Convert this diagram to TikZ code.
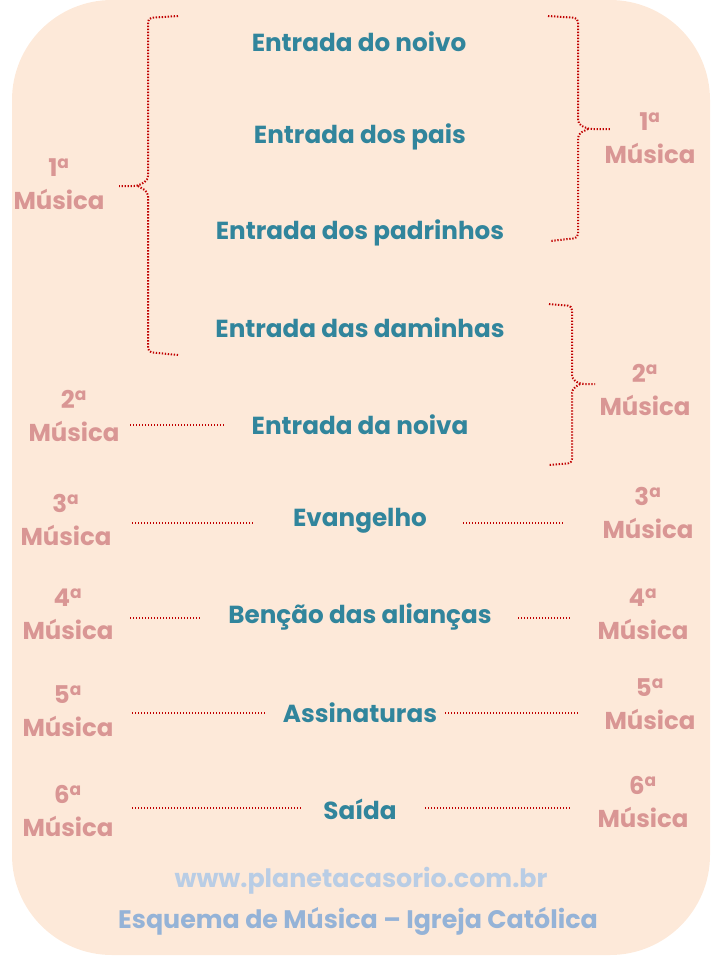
\documentclass[tikz,border=0pt]{standalone}
\usepackage{fontspec}
\setmainfont{Poppins}
\usepackage{xcolor}
\usepackage{tikz}
\usetikzlibrary{positioning}
\definecolor{bgpeach}{HTML}{FDE9D9}
\definecolor{itemteal}{HTML}{31859C}
\definecolor{musrose}{HTML}{D99694}
\definecolor{dotred}{HTML}{C00000}
\definecolor{urlblue}{HTML}{B9CDE5}
\definecolor{titleblue}{HTML}{95B3D7}
\tikzset{
  item/.style={font=\bfseries\fontsize{18.5}{22}\selectfont,text=itemteal,
               inner sep=2pt},
  mus/.style={font=\bfseries\fontsize{18.3}{24.5}\selectfont,text=musrose,
              align=center,inner sep=0pt},
  foot/.style={font=\bfseries\fontsize{19}{22}\selectfont},
  dotln/.style={dotred,line width=1.5pt,dash pattern=on 1pt off 1.25pt},
  brc/.style={dotln,rounded corners=3pt},
}
\newcommand{\mus}[1]{#1\textsuperscript{a}\\Música}
\begin{document}
\begin{tikzpicture}[x=0.75pt, y=-0.75pt]
  \useasboundingbox (0,0) rectangle (720,960);
  \fill[bgpeach, rounded corners=75pt] (12,0) rectangle (710,955);
  % items
  \node[item] (t1) at (359,42)  {Entrada do noivo};
  \node[item] (t2) at (360,137) {Entrada dos pais};
  \node[item] (t3) at (360,233) {Entrada dos padrinhos};
  \node[item] (t4) at (360,328) {Entrada das daminhas};
  \node[item] (t5) at (360,425) {Entrada da noiva};
  \node[item] (t6) at (360,521) {Evangelho};
  \node[item] (t7) at (360,617) {Benção das alianças};
  \node[item] (t8) at (360,713) {Assinaturas};
  \node[item] (t9) at (360,809) {Saída};
  % left music labels
  \node[mus] (l1) at (59,184)  {\mus{1}};
  \node[mus] (l2) at (74,416)  {\mus{2}};
  \node[mus] (l3) at (66,520)  {\mus{3}};
  \node[mus] (l4) at (68,614)  {\mus{4}};
  \node[mus] (l5) at (68,711)  {\mus{5}};
  \node[mus] (l6) at (68,811)  {\mus{6}};
  % right music labels
  \node[mus] (r1) at (650,138) {\mus{1}};
  \node[mus] (r2) at (645,390) {\mus{2}};
  \node[mus] (r3) at (648,513) {\mus{3}};
  \node[mus] (r4) at (643,614) {\mus{4}};
  \node[mus] (r6) at (643,802) {\mus{6}};
  \node[mus] (r5) at (650,704) {\mus{5}};
  % braces
  \coordinate (bl) at (119,186);
  \coordinate (br1) at (610,129);
  \coordinate (br2) at (595,384);
  \draw[brc] (178,16) -- (148,18) -- (148,180) -- (138,186) -- (bl);
  \draw[brc] (138,186) -- (148,192) -- (148,352) -- (178,355);
  \draw[brc] (548,16) -- (578,18) -- (578,124) -- (588,129) -- (br1);
  \draw[brc] (588,129) -- (578,134) -- (578,238) -- (550,241);
  \draw[brc] (549,304) -- (572,306) -- (572,379) -- (580,384) -- (br2);
  \draw[brc] (580,384) -- (572,389) -- (572,463) -- (549,465);
  % dotted leaders
  \coordinate (a5) at (130,425); \coordinate (b5) at (224,425);
  \coordinate (a6) at (132,523); \coordinate (b6) at (255,523);
  \coordinate (c6) at (463,523); \coordinate (d6) at (565,523);
  \coordinate (a7) at (130,618); \coordinate (b7) at (202,618);
  \coordinate (c7) at (518,618); \coordinate (d7) at (572,618);
  \coordinate (a8) at (132,713); \coordinate (b8) at (265,713);
  \coordinate (c8) at (445,713); \coordinate (d8) at (578,713);
  \coordinate (a9) at (132,808); \coordinate (b9) at (303,808);
  \coordinate (c9) at (425,808); \coordinate (d9) at (572,808);
  \draw[dotln] (a5) -- (b5);
  \draw[dotln] (a6) -- (b6);
  \draw[dotln] (c6) -- (d6);
  \draw[dotln] (a7) -- (b7);
  \draw[dotln] (c7) -- (d7);
  \draw[dotln] (a8) -- (b8);
  \draw[dotln] (c8) -- (d8);
  \draw[dotln] (a9) -- (b9);
  \draw[dotln] (c9) -- (d9);
  % footer
  \node[foot, text=urlblue] (url) at (361,881) {www.planetacasorio.com.br};
  \node[foot, text=titleblue] (ttl)
       at (358,921) {Esquema de Música -- Igreja Católica};
\end{tikzpicture}
\end{document}
